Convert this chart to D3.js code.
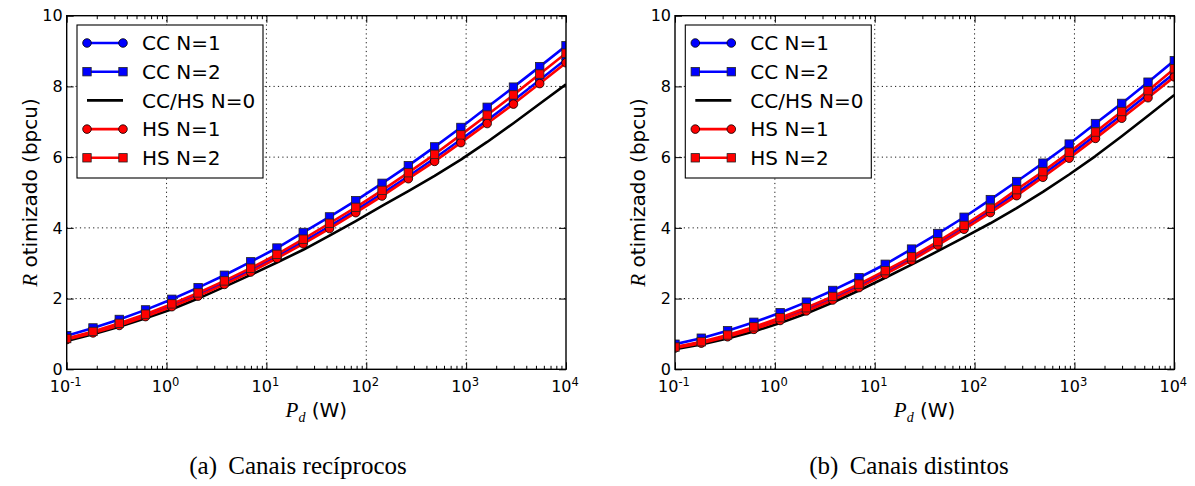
<!DOCTYPE html>
<html>
<head>
<meta charset="utf-8">
<script src="https://cdn.jsdelivr.net/npm/d3@7"></script>
<style>
  body { margin: 0; background: #fff; }
  svg { display: block; }
</style>
</head>
<body>
<svg id="fig" width="1195" height="486"></svg>
<script>
// Transmit power P_d (W), 20 log-spaced points from 0.1 to 10^4
const powerW = [0.1, 0.1833, 0.336, 0.6158, 1.129, 2.069, 3.793, 6.952, 12.74, 23.36,
                42.81, 78.48, 143.8, 263.7, 483.3, 885.9, 1624, 2976, 5456, 10000];

// (a) reciprocal channels — optimized rate R (bpcu)
const recipCC1 = [0.86, 1.05, 1.27, 1.52, 1.80, 2.11, 2.44, 2.80, 3.19, 3.61,
                  4.04, 4.50, 4.97, 5.46, 5.97, 6.50, 7.04, 7.60, 8.18, 8.77];
const recipCC2 = [0.95, 1.17, 1.41, 1.68, 1.98, 2.31, 2.66, 3.04, 3.43, 3.87,
                  4.31, 4.77, 5.26, 5.76, 6.29, 6.84, 7.41, 7.98, 8.56, 9.15];
const recipN0  = [0.80, 0.99, 1.20, 1.44, 1.70, 2.00, 2.33, 2.67, 3.02, 3.38,
                  3.78, 4.19, 4.62, 5.04, 5.47, 5.93, 6.43, 6.96, 7.51, 8.06];
const recipHS1 = [0.84, 1.03, 1.24, 1.49, 1.77, 2.07, 2.40, 2.75, 3.14, 3.55,
                  3.98, 4.43, 4.90, 5.39, 5.88, 6.41, 6.95, 7.50, 8.08, 8.67];
const recipHS2 = [0.87, 1.07, 1.30, 1.56, 1.85, 2.16, 2.50, 2.86, 3.25, 3.68,
                  4.13, 4.58, 5.06, 5.56, 6.08, 6.63, 7.19, 7.76, 8.35, 8.94];

// (b) distinct channels — optimized rate R (bpcu)
const distCC1 = [0.62, 0.76, 0.94, 1.16, 1.41, 1.69, 2.00, 2.35, 2.73, 3.13,
                 3.56, 4.02, 4.50, 4.98, 5.51, 6.05, 6.62, 7.19, 7.78, 8.37];
const distCC2 = [0.71, 0.88, 1.09, 1.33, 1.60, 1.90, 2.23, 2.59, 2.97, 3.40,
                 3.84, 4.30, 4.80, 5.31, 5.83, 6.37, 6.95, 7.52, 8.12, 8.73];
const distN0  = [0.57, 0.70, 0.87, 1.07, 1.31, 1.58, 1.89, 2.23, 2.59, 2.96,
                 3.34, 3.73, 4.13, 4.56, 5.02, 5.51, 6.03, 6.59, 7.17, 7.76];
const distHS1 = [0.60, 0.74, 0.92, 1.13, 1.38, 1.65, 1.96, 2.31, 2.69, 3.08,
                 3.51, 3.96, 4.43, 4.91, 5.43, 5.97, 6.53, 7.10, 7.68, 8.27];
const distHS2 = [0.63, 0.78, 0.97, 1.20, 1.46, 1.74, 2.06, 2.41, 2.79, 3.18,
                 3.61, 4.07, 4.55, 5.08, 5.59, 6.14, 6.71, 7.29, 7.88, 8.50];

const seriesLabels = ["CC N=1", "CC N=2", "CC/HS N=0", "HS N=1", "HS N=2"];
const yTickValues = [0, 2, 4, 6, 8, 10];
const xTickExponents = [-1, 0, 1, 2, 3, 4];
const yLabelText = " otimizado (bpcu)";
const captionTags = ["(a)", "(b)"];
const captionTexts = ["Canais recíprocos", "Canais distintos"];

// drawing styles for each series, in legend order
const styles = [
  { color: "#0000ff", marker: "circle" },
  { color: "#0000ff", marker: "square" },
  { color: "#000000", marker: null },
  { color: "#ff0000", marker: "circle" },
  { color: "#ff0000", marker: "square" }
];

const svg = d3.select("#fig");
const sans = "'DejaVu Sans', 'Bitstream Vera Sans', sans-serif";
const serif = "'Liberation Serif', 'DejaVu Serif', serif";

const plotTop = 15.7, plotH = 353.6, plotW = 499.3;

function drawMarker(g, shape, cx, cy, color) {
  if (shape === "circle") {
    g.append("circle").attr("cx", cx).attr("cy", cy).attr("r", 4.3)
      .attr("fill", color).attr("stroke", "#000").attr("stroke-width", 0.8);
  } else if (shape === "square") {
    g.append("rect").attr("x", cx - 4.2).attr("y", cy - 4.2)
      .attr("width", 8.4).attr("height", 8.4)
      .attr("fill", color).attr("stroke", "#222").attr("stroke-width", 0.8);
  }
}

function drawPanel(idx, left, seriesData, capCenter) {
  const g = svg.append("g");
  const x = d3.scaleLog().domain([0.1, 1e4]).range([left, left + plotW]);
  const y = d3.scaleLinear().domain([0, 10]).range([plotTop + plotH, plotTop]);

  const majors = xTickExponents.map(e => Math.pow(10, e));
  const minors = [];
  for (let e = -1; e < 4; e++) for (let m = 2; m <= 9; m++) minors.push(m * Math.pow(10, e));

  // dotted grid
  const grid = g.append("g").attr("stroke", "#000").attr("stroke-width", 0.9)
    .attr("stroke-dasharray", "1.2,3.2");
  majors.slice(1, -1).forEach(v => {
    grid.append("line").attr("x1", x(v)).attr("x2", x(v))
      .attr("y1", plotTop).attr("y2", plotTop + plotH);
  });
  yTickValues.slice(1, -1).forEach(v => {
    grid.append("line").attr("x1", left).attr("x2", left + plotW)
      .attr("y1", y(v)).attr("y2", y(v));
  });

  // data
  const clipId = "clip" + idx;
  g.append("clipPath").attr("id", clipId).append("rect")
    .attr("x", left).attr("y", plotTop).attr("width", plotW).attr("height", plotH);
  const data = g.append("g").attr("clip-path", `url(#${clipId})`);
  const line = d3.line().x(d => x(d[0])).y(d => y(d[1]));
  seriesData.forEach((vals, i) => {
    const st = styles[i];
    const pts = powerW.map((p, k) => [p, vals[k]]);
    data.append("path").datum(pts).attr("d", line)
      .attr("fill", "none").attr("stroke", st.color)
      .attr("stroke-width", 2.6).attr("stroke-linejoin", "round");
    if (st.marker) {
      const mg = data.append("g");
      pts.forEach(d => drawMarker(mg, st.marker, x(d[0]), y(d[1]), st.color));
    }
  });

  // axes: inward ticks on all four sides
  const axB = g.append("g").attr("transform", `translate(0,${plotTop + plotH})`)
    .call(d3.axisBottom(x).tickValues(majors).tickSize(-7).tickFormat(""));
  const axBm = g.append("g").attr("transform", `translate(0,${plotTop + plotH})`)
    .call(d3.axisBottom(x).tickValues(minors).tickSize(-3.5).tickFormat(""));
  const axT = g.append("g").attr("transform", `translate(0,${plotTop})`)
    .call(d3.axisTop(x).tickValues(majors).tickSize(-7).tickFormat(""));
  const axTm = g.append("g").attr("transform", `translate(0,${plotTop})`)
    .call(d3.axisTop(x).tickValues(minors).tickSize(-3.5).tickFormat(""));
  const axL = g.append("g").attr("transform", `translate(${left},0)`)
    .call(d3.axisLeft(y).tickValues(yTickValues).tickSize(-7).tickFormat(""));
  const axR = g.append("g").attr("transform", `translate(${left + plotW},0)`)
    .call(d3.axisRight(y).tickValues(yTickValues).tickSize(-7).tickFormat(""));
  [axB, axBm, axT, axTm, axL, axR].forEach(a => {
    a.select(".domain").remove();
    a.selectAll(".tick line").attr("stroke", "#000").attr("stroke-width", 1);
  });

  // frame
  g.append("rect").attr("x", left).attr("y", plotTop).attr("width", plotW).attr("height", plotH)
    .attr("fill", "none").attr("stroke", "#000").attr("stroke-width", 1.4);

  // x tick labels 10^e
  xTickExponents.forEach(e => {
    const t = g.append("text").attr("x", x(Math.pow(10, e)) - 1).attr("y", 392)
      .attr("text-anchor", "middle").attr("font-family", sans).attr("font-size", 16);
    t.append("tspan").text("10");
    t.append("tspan").attr("dy", -6.5).attr("font-size", 11.5).text(e < 0 ? "-" + (-e) : String(e));
  });

  // y tick labels
  yTickValues.forEach(v => {
    g.append("text").attr("x", left - 4).attr("y", y(v)).attr("dy", "0.36em")
      .attr("text-anchor", "end").attr("font-family", sans).attr("font-size", 16)
      .text(v);
  });

  // y axis title
  const yl = g.append("text")
    .attr("transform", `translate(${left - 30},${plotTop + plotH / 2}) rotate(-90)`)
    .attr("text-anchor", "middle").attr("font-size", 20).attr("font-family", sans);
  yl.append("tspan").attr("font-family", serif).attr("font-style", "italic")
    .attr("font-size", 21).text("R");
  yl.append("tspan").text(yLabelText);

  // x axis title
  const xl = g.append("text").attr("x", left + plotW / 2).attr("y", 417)
    .attr("text-anchor", "middle").attr("font-size", 20).attr("font-family", sans);
  xl.append("tspan").attr("font-family", serif).attr("font-style", "italic")
    .attr("font-size", 21).text("P");
  xl.append("tspan").attr("font-family", serif).attr("font-style", "italic")
    .attr("font-size", 14).attr("dy", 5).text("d");
  xl.append("tspan").attr("dy", -5).text(" (W)");

  // legend
  const lg = g.append("g");
  lg.append("rect").attr("x", left + 10.3).attr("y", 25).attr("width", 186).attr("height", 153)
    .attr("fill", "#fff").attr("stroke", "#000").attr("stroke-width", 1.1);
  seriesLabels.forEach((lab, i) => {
    const ry = 43 + i * 28.7;
    const st = styles[i];
    lg.append("line").attr("x1", left + 20.3).attr("x2", left + 56.3)
      .attr("y1", ry).attr("y2", ry).attr("stroke", st.color).attr("stroke-width", 2.6);
    if (st.marker) {
      drawMarker(lg, st.marker, left + 20.3, ry, st.color);
      drawMarker(lg, st.marker, left + 56.3, ry, st.color);
    }
    lg.append("text").attr("x", left + 75.3).attr("y", ry).attr("dy", "0.36em")
      .attr("font-family", sans).attr("font-size", 20).text(lab);
  });

  // caption
  const cap = svg.append("text").attr("x", capCenter).attr("y", 474)
    .attr("text-anchor", "middle").attr("font-family", serif).attr("font-size", 25);
  cap.append("tspan").text(captionTags[idx]);
  cap.append("tspan").attr("dx", 5).text(" " + captionTexts[idx]);
}

drawPanel(0, 66.7, [recipCC1, recipCC2, recipN0, recipHS1, recipHS2], 298);
drawPanel(1, 675, [distCC1, distCC2, distN0, distHS1, distHS2], 909);
</script>
</body>
</html>
